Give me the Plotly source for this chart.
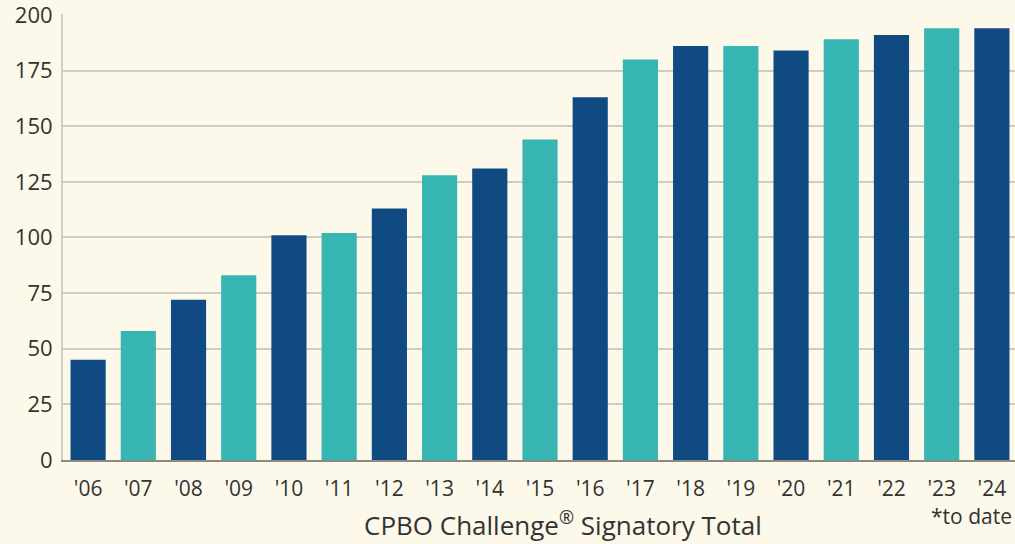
import plotly.graph_objects as go

years = ["'06", "'07", "'08", "'09", "'10", "'11", "'12", "'13", "'14", "'15",
         "'16", "'17", "'18", "'19", "'20", "'21", "'22", "'23", "'24"]
signatories = [45, 58, 72, 83, 101, 102, 113, 128, 131, 144,
               163, 180, 186, 186, 184, 189, 191, 194, 194]
y_ticks = [0, 25, 50, 75, 100, 125, 150, 175, 200]

DARK = "#0f4a82"
TEAL = "#37b5b2"
colors = [DARK if i % 2 == 0 else TEAL for i in range(len(years))]

fig = go.Figure(go.Bar(
    x=list(range(len(years))),
    y=signatories,
    marker=dict(color=colors, line=dict(width=0)),
    width=0.7,
    hoverinfo="y",
))

FONT = "Open Sans"
fig.update_layout(
    width=1015, height=544,
    margin=dict(l=63, r=0, t=14, b=84),
    paper_bgcolor="#fcf8ea",
    plot_bgcolor="#fcf8ea",
    showlegend=False,
    font=dict(family=FONT, color="#333333"),
    xaxis=dict(
        range=[-0.5, 18.46],
        tickmode="array",
        tickvals=list(range(len(years))),
        ticktext=years,
        showgrid=False,
        showline=True, linecolor="#8f8a80", linewidth=2,
        ticks="", tickfont=dict(size=21, family=FONT, color="#333333"),
        ticklabelstandoff=9,
        zeroline=False,
    ),
    yaxis=dict(
        range=[0, 200.4],
        tickmode="array",
        tickvals=y_ticks,
        showgrid=True, gridcolor="#cfccc4", gridwidth=1.5,
        showline=True, linecolor="#d2cfc8", linewidth=2,
        ticks="", tickfont=dict(size=22, family=FONT, color="#333333"),
        ticklabelstandoff=4,
        ticklabeloverflow="allow",
        zeroline=False,
    ),
    annotations=[
        dict(text="CPBO Challenge<sup>®</sup> Signatory Total", xref="paper", yref="paper",
             x=0.525, y=-0.143, xanchor="center", yanchor="middle",
             showarrow=False, font=dict(size=26, family=FONT, color="#333333")),
        dict(text="*to date", xref="paper", yref="paper",
             x=0.999, y=-0.125, xanchor="right", yanchor="middle",
             showarrow=False, font=dict(size=21, family=FONT, color="#333333")),
    ],
)

fig.write_html("out.html", config={"displayModeBar": False},
               post_script="document.body.style.margin='0';")
